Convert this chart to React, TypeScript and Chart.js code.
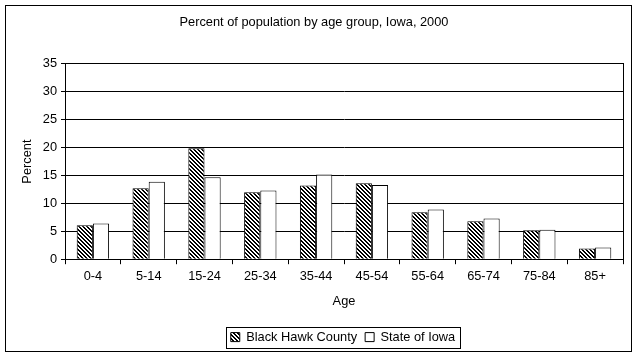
import React, { useEffect, useRef } from 'react';
import { Chart, registerables } from 'chart.js';

Chart.register(...registerables);

const categories = ['0-4', '5-14', '15-24', '25-34', '35-44', '45-54', '55-64', '65-74', '75-84', '85+'];
const blackHawk = [6.1, 12.7, 19.9, 12.0, 13.2, 13.6, 8.4, 6.8, 5.2, 1.9];
const stateIowa = [6.4, 13.9, 14.7, 12.3, 15.2, 13.3, 8.9, 7.3, 5.3, 2.1];
const seriesNames = ['Black Hawk County', 'State of Iowa'];
const titleText = 'Percent of population by age group, Iowa, 2000';
const xTitle = 'Age';
const yTitle = 'Percent';
const yMin = 0;
const yMax = 35;
const yStep = 5;

const FONT = '"Liberation Sans", Arial, sans-serif';
const FS = 12.8;
const LEGEND_SHIFT = 29;

function makeHatch(): CanvasPattern | string {
  const c = document.createElement('canvas');
  c.width = 4;
  c.height = 4;
  const g = c.getContext('2d');
  if (!g) return '#888';
  g.fillStyle = '#fff';
  g.fillRect(0, 0, 4, 4);
  g.fillStyle = '#000';
  for (let y = 0; y < 4; y++) {
    for (let x = 0; x < 4; x++) {
      if ((((x - y) % 4) + 4) % 4 < 2) g.fillRect(x, y, 1, 1);
    }
  }
  return g.createPattern(c, 'repeat') || '#888';
}

const align = (v: number) => Math.round(v - 0.5) + 0.5;

const framePlugin = {
  id: 'frame',
  afterUpdate(chart: any) {
    const lg = chart.legend;
    if (lg) {
      lg.left += LEGEND_SHIFT;
      lg.right += LEGEND_SHIFT;
      (lg.legendHitBoxes || []).forEach((h: any) => { h.left += LEGEND_SHIFT; });
    }
  },
  beforeDraw(chart: any) {
    const ctx = chart.ctx;
    ctx.save();
    ctx.fillStyle = '#fff';
    ctx.fillRect(0, 0, chart.width, chart.height);
    ctx.restore();
  },
  afterDraw(chart: any) {
    const ctx = chart.ctx;
    ctx.save();
    ctx.strokeStyle = '#000';
    ctx.lineWidth = 1;
    ctx.strokeRect(5.5, 5.5, 626, 346);
    const a = chart.chartArea;
    const l0 = align(a.left), r0 = align(a.right), t0 = align(a.top), b0 = align(a.bottom);
    ctx.strokeRect(l0, t0, r0 - l0, b0 - t0);
    const lg = chart.legend;
    if (lg && lg.legendHitBoxes && lg.legendHitBoxes.length) {
      const hb = lg.legendHitBoxes;
      let l = Infinity, r = -Infinity, t = Infinity, b = -Infinity;
      hb.forEach((h: any) => {
        l = Math.min(l, h.left);
        r = Math.max(r, h.left + h.width);
        t = Math.min(t, h.top);
        b = Math.max(b, h.top + h.height);
      });
      ctx.strokeRect(Math.round(l - 5) + 0.5, Math.round(t - 4) + 0.5, Math.round(r - l + 10), Math.round(b - t + 8));
    }
    ctx.restore();
  },
};

export default function App() {
  const ref = useRef<HTMLCanvasElement | null>(null);
  useEffect(() => {
    if (!ref.current) return;
    const hatch = makeHatch();
    const chart = new Chart(ref.current, {
      type: 'bar',
      data: {
        labels: categories,
        datasets: [
          {
            label: seriesNames[0],
            data: blackHawk,
            backgroundColor: hatch as any,
            borderColor: '#000',
            borderWidth: 1,
            categoryPercentage: 0.58,
            barPercentage: 1,
          },
          {
            label: seriesNames[1],
            data: stateIowa,
            backgroundColor: '#fff',
            borderColor: '#000',
            borderWidth: 1,
            categoryPercentage: 0.58,
            barPercentage: 1,
          },
        ],
      },
      options: {
        responsive: false,
        animation: false,
        devicePixelRatio: 1,
        color: '#000',
        font: { family: FONT, size: FS },
        layout: { padding: { left: 5, right: 16, top: 0, bottom: 4.5 } },
        plugins: {
          title: {
            display: true,
            text: titleText,
            color: '#000',
            font: { family: FONT, size: FS, weight: 'normal' },
            padding: { top: 14.5, bottom: 34.1 },
          },
          legend: {
            display: true,
            position: 'bottom',
            labels: {
              color: '#000',
              font: { family: FONT, size: FS },
              boxWidth: 9,
              boxHeight: 9,
              padding: 8,
            },
          },
          tooltip: { enabled: false },
        },
        scales: {
          x: {
            afterFit: (s: any) => { s.height = 63.5; },
            grid: {
              display: true,
              drawOnChartArea: false,
              drawTicks: true,
              tickLength: 5,
              color: '#000',
              offset: true,
            },
            border: { display: true, color: '#000' },
            ticks: { color: '#000', font: { family: FONT, size: FS }, padding: 5, maxRotation: 0 },
            title: { display: true, text: xTitle, color: '#000', font: { family: FONT, size: FS }, padding: { top: 4, bottom: 13.5 } },
          },
          y: {
            min: yMin,
            max: yMax,
            afterFit: (s: any) => { s.width = 60; },
            grid: { color: '#000', tickLength: 4, drawTicks: true },
            border: { display: true, color: '#000' },
            ticks: { stepSize: yStep, color: '#000', font: { family: FONT, size: FS }, padding: 4 },
            title: { display: true, text: yTitle, color: '#000', font: { family: FONT, size: FS }, padding: { top: 14.5, bottom: 0 } },
          },
        },
      },
      plugins: [framePlugin],
    });
    return () => chart.destroy();
  }, []);
  return (
    <div style={{ position: 'absolute', left: 0, top: 0, width: 639, height: 358, background: '#fff' }}>
      <canvas ref={ref} width={639} height={358} style={{ display: 'block', width: 639, height: 358 }} />
    </div>
  );
}
